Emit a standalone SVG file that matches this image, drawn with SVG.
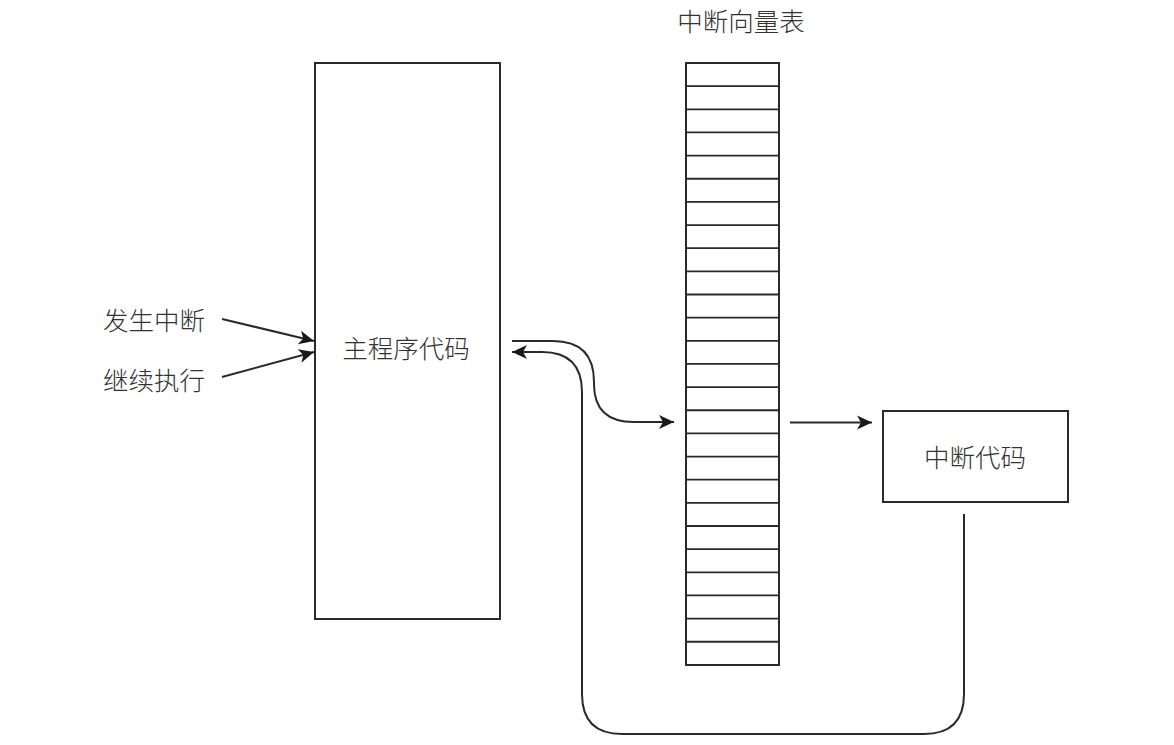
<svg xmlns="http://www.w3.org/2000/svg" width="1174" height="745" viewBox="0 0 1174 745">
<defs>
<style>
.box{fill:#fff;stroke:#2a2a2a;stroke-width:2}
.ln{fill:none;stroke:#2a2a2a;stroke-width:2}
.row{stroke:#2a2a2a;stroke-width:1.8}
.t{font-family:"Noto Sans CJK SC","Noto Sans CJK JP",sans-serif;font-size:25.5px;font-weight:300;fill:#333}
</style>
<marker id="ah" viewBox="-1 -8 17 16" refX="15" refY="0" markerWidth="17" markerHeight="16" markerUnits="userSpaceOnUse" orient="auto">
<path d="M0,-7 L15,0 L0,7 L4,0 z" fill="#1a1a1a"/>
</marker>
</defs>
<rect width="1174" height="745" fill="#fff"/>
<g id="main">
<rect class="box" x="315" y="63" width="185" height="556"/>
<text class="t" x="406" y="358" text-anchor="middle">主程序代码</text>
</g>
<g id="vector-table">
<text class="t" x="741" y="31" text-anchor="middle">中断向量表</text>
<rect class="box" x="686" y="63" width="93" height="602"/>
<g class="row">
<line x1="686" x2="779" y1="86.15" y2="86.15"/>
<line x1="686" x2="779" y1="109.3" y2="109.3"/>
<line x1="686" x2="779" y1="132.45" y2="132.45"/>
<line x1="686" x2="779" y1="155.6" y2="155.6"/>
<line x1="686" x2="779" y1="178.75" y2="178.75"/>
<line x1="686" x2="779" y1="201.9" y2="201.9"/>
<line x1="686" x2="779" y1="225.05" y2="225.05"/>
<line x1="686" x2="779" y1="248.2" y2="248.2"/>
<line x1="686" x2="779" y1="271.35" y2="271.35"/>
<line x1="686" x2="779" y1="294.5" y2="294.5"/>
<line x1="686" x2="779" y1="317.65" y2="317.65"/>
<line x1="686" x2="779" y1="340.8" y2="340.8"/>
<line x1="686" x2="779" y1="363.95" y2="363.95"/>
<line x1="686" x2="779" y1="387.1" y2="387.1"/>
<line x1="686" x2="779" y1="410.25" y2="410.25"/>
<line x1="686" x2="779" y1="433.4" y2="433.4"/>
<line x1="686" x2="779" y1="456.55" y2="456.55"/>
<line x1="686" x2="779" y1="479.7" y2="479.7"/>
<line x1="686" x2="779" y1="502.85" y2="502.85"/>
<line x1="686" x2="779" y1="526" y2="526"/>
<line x1="686" x2="779" y1="549.15" y2="549.15"/>
<line x1="686" x2="779" y1="572.3" y2="572.3"/>
<line x1="686" x2="779" y1="595.45" y2="595.45"/>
<line x1="686" x2="779" y1="618.6" y2="618.6"/>
<line x1="686" x2="779" y1="641.75" y2="641.75"/>
</g>
</g>
<g id="isr">
<rect class="box" x="883" y="411" width="185" height="91"/>
<text class="t" x="975" y="467" text-anchor="middle">中断代码</text>
</g>
<g id="labels">
<text class="t" x="103" y="330">发生中断</text>
<text class="t" x="103" y="390">继续执行</text>
</g>
<g id="connectors">
<line class="ln" x1="222" y1="319" x2="314" y2="341" marker-end="url(#ah)"/>
<line class="ln" x1="222" y1="377" x2="314" y2="352" marker-end="url(#ah)"/>
<path class="ln" d="M512,341 H553 Q594,341 594,382 V384 Q594,422 634,422 H674" marker-end="url(#ah)"/>
<line class="ln" x1="790" y1="422.5" x2="872" y2="422.5" marker-end="url(#ah)"/>
<path class="ln" d="M964,514 V694 Q964,734 924,734 H622 Q582,734 582,694 V392 Q582,352 542,352 H512" marker-end="url(#ah)"/>
</g>
</svg>
